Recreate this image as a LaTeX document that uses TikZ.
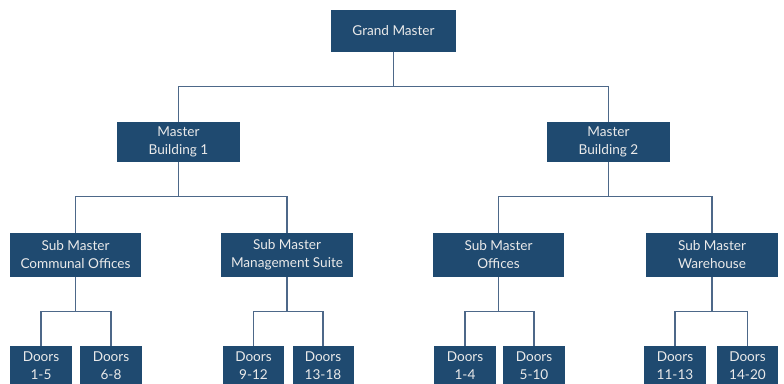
\documentclass[tikz,border=0pt]{standalone}
\usepackage{fontspec}
\setmainfont{Lato}
\definecolor{boxblue}{HTML}{1F4A70}
\definecolor{linkblue}{HTML}{4D6889}
\definecolor{boxtext}{HTML}{EAEAEA}
\begin{document}
\begin{tikzpicture}[x=1pt,y=-1pt,
  box/.style={fill=boxblue, text=boxtext, align=center, inner sep=0pt,
    font=\fontsize{13.6}{18}\selectfont},
  link/.style={draw=linkblue, line width=1.2pt}]
\useasboundingbox (0,0) rectangle (784,383);
% boxes
\node[box, minimum width=125, minimum height=42] (gm) at (393.5,31) {Grand Master};
\node[box, minimum width=123, minimum height=40] (mb1) at (178.5,142) {Master\\Building 1};
\node[box, minimum width=123, minimum height=40] (mb2) at (608.5,142) {Master\\Building 2};
\node[box, minimum width=131, minimum height=44] (s1) at (75.5,255) {Sub Master\\Communal Offices};
\node[box, minimum width=132, minimum height=44] (s2) at (287,255) {Sub Master\\Management Suite};
\node[box, minimum width=131, minimum height=44] (s3) at (498.5,255) {Sub Master\\Offices};
\node[box, minimum width=132, minimum height=44] (s4) at (712,255) {Sub Master\\Warehouse};
\node[box, minimum width=62, minimum height=40] (d1) at (41,366) {Doors\\1-5};
\node[box, minimum width=62, minimum height=40] (d2) at (111,366) {Doors\\6-8};
\node[box, minimum width=61, minimum height=40] (d3) at (253.5,366) {Doors\\9-12};
\node[box, minimum width=61, minimum height=40] (d4) at (323,366) {Doors\\13-18};
\node[box, minimum width=62, minimum height=40] (d5) at (465,366) {Doors\\1-4};
\node[box, minimum width=62, minimum height=40] (d6) at (534,366) {Doors\\5-10};
\node[box, minimum width=62, minimum height=40] (d7) at (675,366) {Doors\\11-13};
\node[box, minimum width=61, minimum height=40] (d8) at (747.5,366) {Doors\\14-20};
% connectors
\draw[link] (gm.south) -- ++(0,35);
\draw[link] (mb1.north) -- ++(0,-35) -| (mb2.north);
\draw[link] (mb1.south) -- ++(0,35);
\draw[link] (s1.north) -- ++(0,-36) -| (s2.north);
\draw[link] (mb2.south) -- ++(0,35);
\draw[link] (s3.north) -- ++(0,-36) -| (s4.north);
\draw[link] (s1.south) -- ++(0,35);
\draw[link] (d1.north) -- ++(0,-34) -| (d2.north);
\draw[link] (s2.south) -- ++(0,35);
\draw[link] (d3.north) -- ++(0,-34) -| (d4.north);
\draw[link] (s3.south) -- ++(0,35);
\draw[link] (d5.north) -- ++(0,-34) -| (d6.north);
\draw[link] (s4.south) -- ++(0,35);
\draw[link] (d7.north) -- ++(0,-34) -| (d8.north);
\end{tikzpicture}
\end{document}
